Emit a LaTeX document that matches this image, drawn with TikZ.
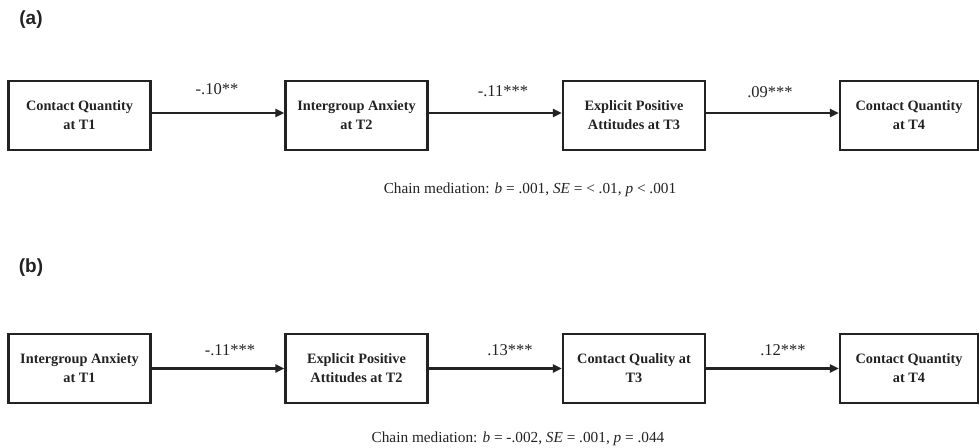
\documentclass[tikz,border=0pt]{standalone}
\usepackage{fontspec}
\setmainfont{Liberation Serif}
\newfontfamily\panelfont{Liberation Sans}
\usetikzlibrary{arrows.meta}
\definecolor{ink}{HTML}{222222}
\begin{document}
\begin{tikzpicture}[x=1pt,y=-1pt,
  varbox/.style={draw=ink,line width=2.2pt,minimum width=142pt,minimum height=69pt,inner sep=0pt,align=center,font=\fontsize{14.3}{19}\selectfont\bfseries,text=ink},
  coef/.style={anchor=base,font=\fontsize{16.5}{18}\selectfont,text=ink,inner sep=0pt},
  note/.style={anchor=base,font=\fontsize{15.3}{18}\selectfont,text=ink,inner sep=0pt},
  panel/.style={font=\panelfont\fontsize{19}{22}\selectfont\bfseries,text=ink,inner sep=0pt},
  link/.style={draw=ink,line width=2.4pt,-{Triangle[length=9pt,width=8pt]}}]
\useasboundingbox (0,0) rectangle (979,447);
% panel (a)
\node[panel] (pa) at (31,20) {(a)};
\node[varbox] (a1) at (79.5,115.5) {Contact Quantity\\at T1};
\node[varbox] (a2) at (356.5,115.5) {Intergroup Anxiety\\at T2};
\node[varbox] (a3) at (634,115.5) {Explicit Positive\\Attitudes at T3};
\node[varbox,minimum width=138pt] (a4) at (909,115.5) {Contact Quantity\\at T4};
\draw[link] ([yshift=2.5pt]a1.east) -- ([yshift=2.5pt]a2.west);
\draw[link] ([yshift=2.5pt]a2.east) -- ([yshift=2.5pt]a3.west);
\draw[link] ([yshift=2.5pt]a3.east) -- ([yshift=2.5pt]a4.west);
\node[coef] (ca1) at (217,94) {-.10**};
\node[coef] (ca2) at (503,96) {-.11***};
\node[coef] (ca3) at (770,97) {.09***};
\node[note] (na) at (530,193) {Chain mediation: \textit{b} = .001, \textit{SE} = < .01, \textit{p} < .001};
% panel (b)
\node[panel] (pb) at (31,268) {(b)};
\node[varbox] (b1) at (79.5,368.5) {Intergroup Anxiety\\at T1};
\node[varbox] (b2) at (356.5,368.5) {Explicit Positive\\Attitudes at T2};
\node[varbox] (b3) at (634,368.5) {Contact Quality at\\T3};
\node[varbox,minimum width=138pt] (b4) at (909,368.5) {Contact Quantity\\at T4};
\draw[link] (b1) -- (b2);
\draw[link] (b2) -- (b3);
\draw[link] (b3) -- (b4);
\node[coef] (cb1) at (230,355) {-.11***};
\node[coef] (cb2) at (510,355) {.13***};
\node[coef] (cb3) at (783,355) {.12***};
\node[note] (nb) at (518,442) {Chain mediation: \textit{b} = -.002, \textit{SE} = .001, \textit{p} = .044};
\end{tikzpicture}
\end{document}
